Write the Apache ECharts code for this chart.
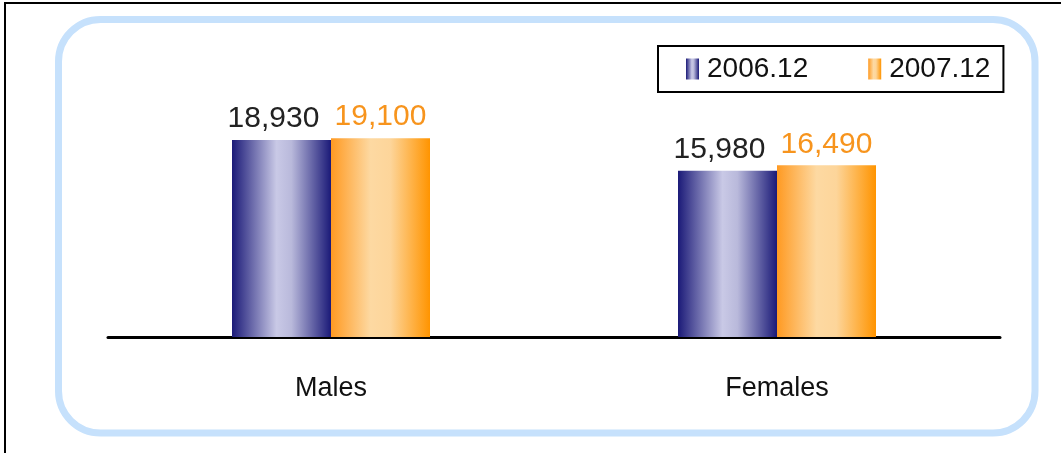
<!DOCTYPE html>
<html>
<head>
<meta charset="utf-8">
<script src="https://cdn.jsdelivr.net/npm/echarts@6/dist/echarts.min.js"></script>
<style>
  html, body { margin: 0; padding: 0; background: #fff; }
  #chart { width: 1061px; height: 453px; }
</style>
</head>
<body>
<div id="chart"></div>
<script>
var categories = ["Males", "Females"];
var seriesNames = ["2006.12", "2007.12"];
var values2006 = [18930, 15980];
var values2007 = [19100, 16490];

var chart = echarts.init(document.getElementById("chart"));

var blueGrad = new echarts.graphic.LinearGradient(0, 0, 1, 0, [
  { offset: 0, color: "#1b1a78" },
  { offset: 0.45, color: "#c9c9e6" },
  { offset: 0.6, color: "#b9b9db" },
  { offset: 1, color: "#1b1a78" }
]);
var orangeGrad = new echarts.graphic.LinearGradient(0, 0, 1, 0, [
  { offset: 0, color: "#ff9a22" },
  { offset: 0.4, color: "#fdd9a2" },
  { offset: 0.6, color: "#fdd59a" },
  { offset: 1, color: "#ff9400" }
]);

var fontFam = "Liberation Sans, Arial, sans-serif";

var option = {
  animation: false,
  graphic: [
    {
      // outer frame, top and left edge only
      type: "polyline",
      shape: { points: [[5, 453], [5, 3], [1061, 3]] },
      style: { stroke: "#000", lineWidth: 2, fill: null }
    },
    {
      type: "rect",
      shape: { x: 58.5, y: 19.5, width: 976.5, height: 413.5, r: 42 },
      style: { fill: null, stroke: "#c6e1fc", lineWidth: 7 }
    }
  ],
  legend: {
    data: seriesNames,
    left: 658,
    top: 46,
    padding: [9, 13, 9, 28],
    itemGap: 60,
    itemWidth: 13,
    itemHeight: 21,
    borderColor: "#000",
    borderWidth: 2,
    icon: "rect",
    textStyle: { fontSize: 28, color: "#111", fontFamily: fontFam, padding: [2, 0, 0, 3] }
  },
  grid: { left: 108, right: 61, top: 108, bottom: 116 },
  xAxis: {
    type: "category",
    data: categories,
    axisLine: { lineStyle: { color: "#000", width: 3 } },
    axisTick: { show: false },
    axisLabel: { fontSize: 27, color: "#111", margin: 38, fontFamily: fontFam }
  },
  yAxis: {
    type: "value",
    min: 0,
    max: 22000,
    show: false
  },
  series: [
    {
      name: seriesNames[0],
      type: "bar",
      data: values2006,
      barWidth: 99,
      barGap: "0%",
      itemStyle: { color: blueGrad },
      label: {
        show: true,
        position: "top",
        distance: 6,
        offset: [-8, 0],
        fontSize: 30,
        color: "#222",
        fontFamily: fontFam,
        formatter: function (p) { return p.value.toLocaleString("en-US"); }
      }
    },
    {
      name: seriesNames[1],
      type: "bar",
      data: values2007,
      barWidth: 99,
      itemStyle: { color: orangeGrad },
      label: {
        show: true,
        position: "top",
        distance: 6,
        fontSize: 30,
        color: "#f7941d",
        fontFamily: fontFam,
        formatter: function (p) { return p.value.toLocaleString("en-US"); }
      }
    }
  ]
};

chart.setOption(option);
</script>
</body>
</html>
